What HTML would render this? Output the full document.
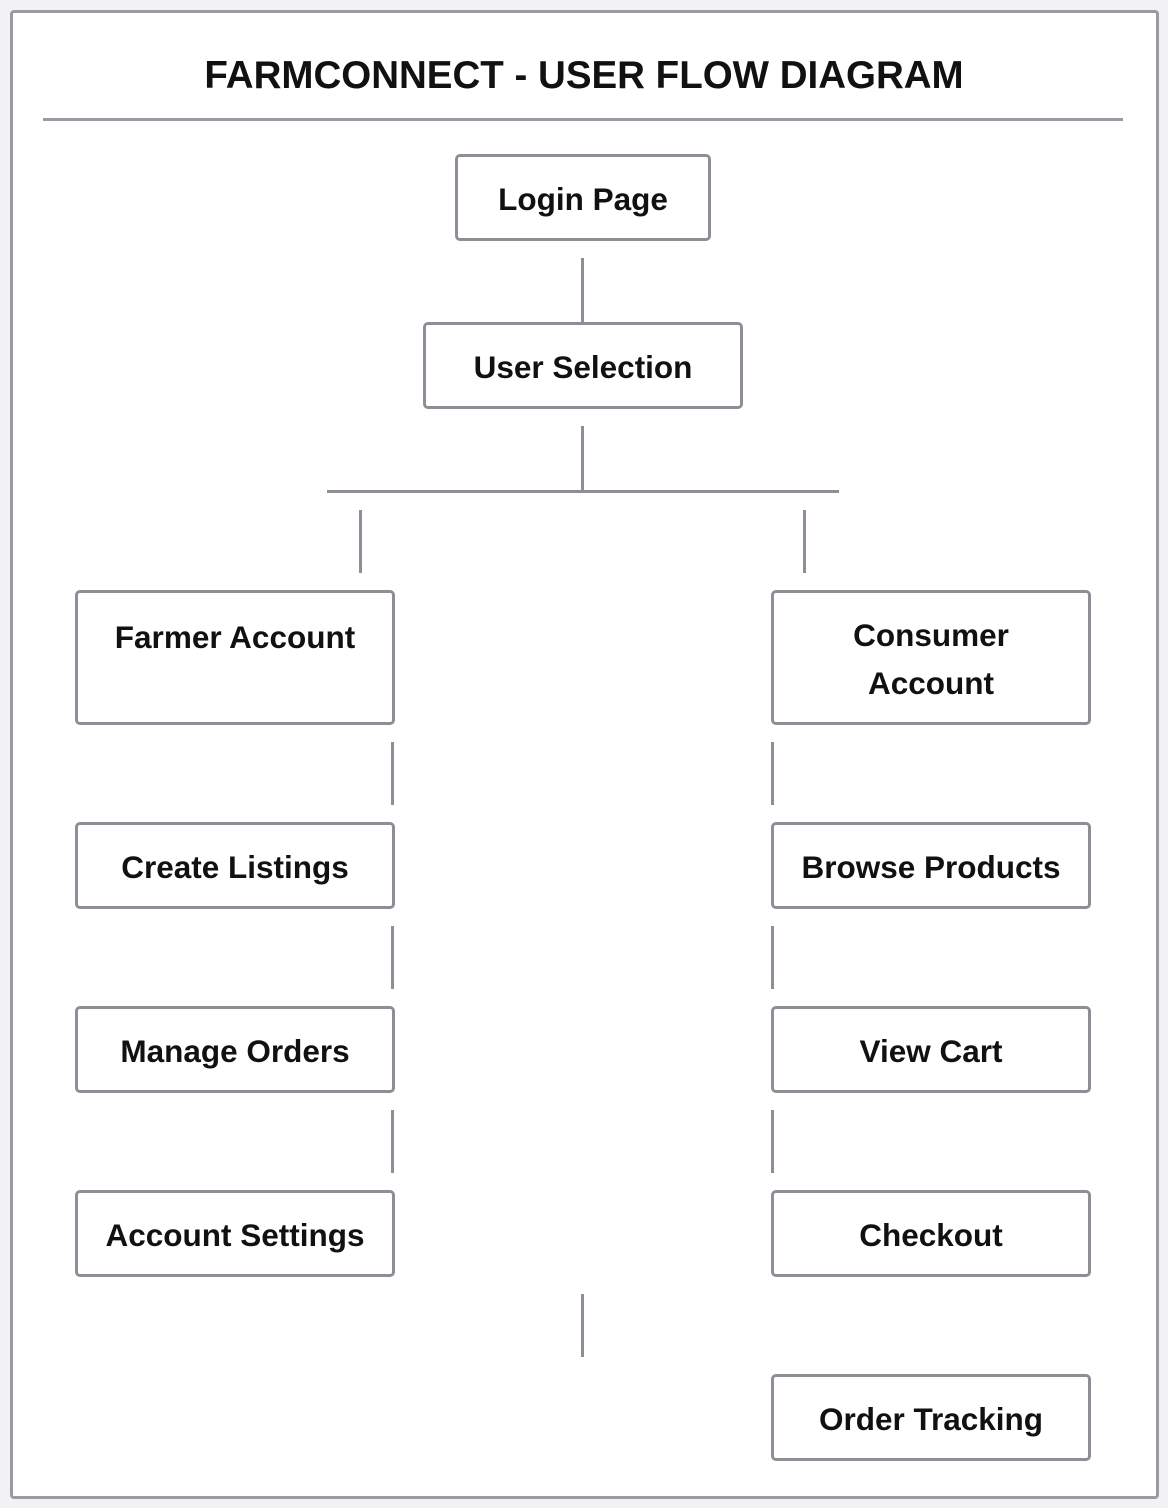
<!DOCTYPE html>
<html><head><style>
body{margin:0;width:1168px;height:1508px;background:#f2f2f4;position:relative;font-family:"Liberation Sans",Arial,sans-serif;overflow:hidden}
.frame{position:absolute;left:10px;top:10px;width:1143px;height:1483px;background:#fff;border:3px solid #9a9aa2;border-radius:4px}
.t{position:absolute;left:0;width:1168px;top:54px;text-align:center;font-weight:bold;font-size:38.5px;color:#111}
.hr{position:absolute;left:43px;top:118px;width:1080px;height:3px;background:#9a9aa2}
.b{position:absolute;box-sizing:border-box;border:3px solid #8e8e96;border-radius:5px;background:#fff;font-weight:bold;font-size:31.5px;color:#111;text-align:center;display:flex;align-items:center;justify-content:center;line-height:48px;padding-top:3px}
.v{position:absolute;width:3px;background:#8e8e96}
.h{position:absolute;height:3px;background:#8e8e96}
</style></head><body>
<div class="frame"></div>
<div class="t">FARMCONNECT - USER FLOW DIAGRAM</div>
<div class="hr"></div>
<div class="b" style="left:455px;top:154px;width:256px;height:87px">Login Page</div>
<div class="b" style="left:423px;top:322px;width:320px;height:87px">User Selection</div>
<div class="b" style="left:75px;top:590px;width:320px;height:135px;align-items:flex-start;padding-top:20px">Farmer Account</div>
<div class="b" style="left:771px;top:590px;width:320px;height:135px">Consumer<br>Account</div>
<div class="b" style="left:75px;top:822px;width:320px;height:87px">Create Listings</div>
<div class="b" style="left:771px;top:822px;width:320px;height:87px">Browse Products</div>
<div class="b" style="left:75px;top:1006px;width:320px;height:87px">Manage Orders</div>
<div class="b" style="left:771px;top:1006px;width:320px;height:87px">View Cart</div>
<div class="b" style="left:75px;top:1190px;width:320px;height:87px">Account Settings</div>
<div class="b" style="left:771px;top:1190px;width:320px;height:87px">Checkout</div>
<div class="b" style="left:771px;top:1374px;width:320px;height:87px">Order Tracking</div>
<div class="v" style="left:581px;top:258px;height:64px"></div>
<div class="v" style="left:581px;top:426px;height:65px"></div>
<div class="h" style="left:327px;top:490px;width:512px"></div>
<div class="v" style="left:359px;top:510px;height:63px"></div>
<div class="v" style="left:803px;top:510px;height:63px"></div>
<div class="v" style="left:391px;top:742px;height:63px"></div>
<div class="v" style="left:771px;top:742px;height:63px"></div>
<div class="v" style="left:391px;top:926px;height:63px"></div>
<div class="v" style="left:771px;top:926px;height:63px"></div>
<div class="v" style="left:391px;top:1110px;height:63px"></div>
<div class="v" style="left:771px;top:1110px;height:63px"></div>
<div class="v" style="left:581px;top:1294px;height:63px"></div>
</body></html>
